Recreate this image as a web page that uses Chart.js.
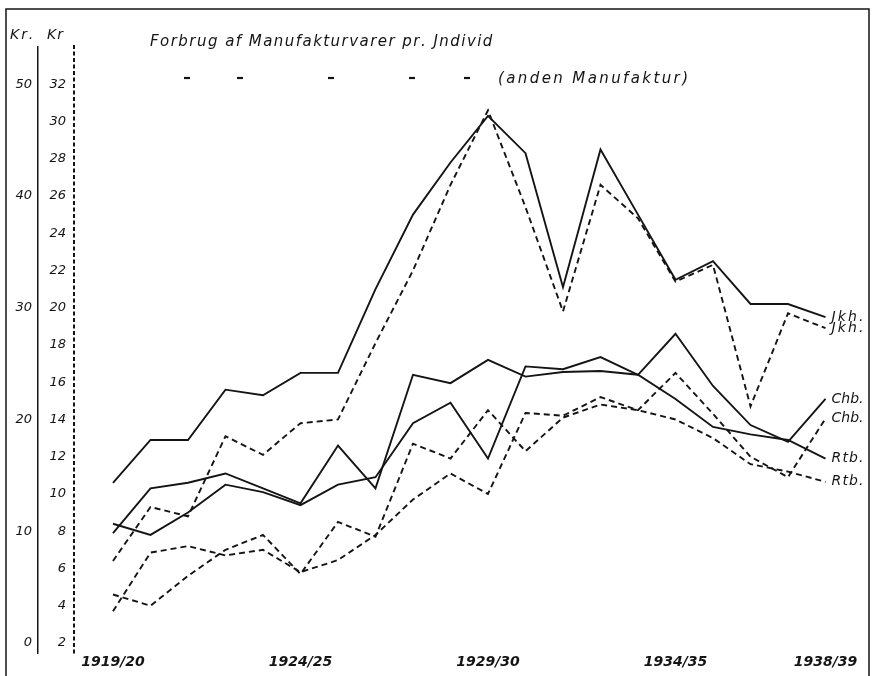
<!DOCTYPE html>
<html><head><meta charset="utf-8">
<script src="https://cdn.jsdelivr.net/npm/chart.js@4/dist/chart.umd.min.js"></script>
<style>html,body{margin:0;padding:0;background:#fff}#wrap{width:873px;height:676px}</style>
</head><body><div id="wrap"><canvas id="c" width="873" height="676"></canvas></div>
<script>
// ---- data ----
const years = ['1919/20','1920/21','1921/22','1922/23','1923/24','1924/25','1925/26','1926/27','1927/28','1928/29',
               '1929/30','1930/31','1931/32','1932/33','1933/34','1934/35','1935/36','1936/37','1937/38','1938/39'];
const xTickIndex = [0,5,10,15,19];
const innerTicks = [2,4,6,8,10,12,14,16,18,20,22,24,26,28,30,32];
const outerTicks = [0,10,20,30,40,50];
const jkhSolid  = [10.6,12.9,12.9,15.6,15.3,16.5,16.5,21.0,25.0,27.8,30.3,28.3,21.1,28.5,25.0,21.5,22.5,20.2,20.2,19.5];
const jkhDashed = [6.4,9.3,8.8,13.1,12.1,13.8,14.0,18.1,22.0,26.6,30.6,25.4,19.8,26.6,24.8,21.4,22.3,14.7,19.7,18.9];
const chbSolid  = [8.4,7.8,9.0,10.5,10.1,9.4,10.5,10.9,13.8,14.9,11.9,16.85,16.7,17.35,16.4,18.6,15.8,13.7,12.8,15.1];
const chbDashed = [3.7,6.85,7.2,6.7,7.0,5.8,6.45,7.8,9.7,11.1,10.0,14.35,14.2,15.2,14.5,16.5,14.3,12.0,10.9,14.05];
const rtbSolid  = [7.9,10.3,10.6,11.1,10.3,9.5,12.6,10.3,16.4,15.95,17.2,16.3,16.55,16.6,16.4,15.1,13.6,13.2,12.9,11.9];
const rtbDashed = [4.6,4.0,5.6,7.0,7.8,5.7,8.5,7.7,12.7,11.9,14.5,12.3,14.1,14.8,14.5,14.0,13.0,11.6,11.2,10.65];
const seriesNames = ['Jkh.','Jkh.','Chb.','Chb.','Rtb.','Rtb.'];
const titleText = 'Forbrug af Manufakturvarer pr. Jndivid';
const subText = '(anden Manufaktur)';

const INK = '#141414';
const FONT = '"DejaVu Sans"';
const toPts = arr => arr.map((v,i)=>({x:i,y:v}));
function ds(arr, dashed, name){
  return {label:name, data:toPts(arr), borderColor:INK, borderWidth:1.9, pointRadius:0,
          borderDash: dashed?[6,4]:[], tension:0, fill:false, clip:false, yAxisID:'y'};
}

function spacedText(ctx, text, x, y, width){
  const w = ctx.measureText(text).width;
  const sp = Math.max(0,(width - w)/(text.length-1));
  let cx = x;
  for (const ch of text){ ctx.fillText(ch, cx, y); cx += ctx.measureText(ch).width + sp; }
}

const deco = {
  id:'deco',
  afterDraw(chart){
    const ctx = chart.ctx;
    ctx.save();
    ctx.strokeStyle = INK; ctx.fillStyle = INK;
    // frame
    ctx.lineWidth = 1.5;
    ctx.beginPath(); ctx.moveTo(6,676); ctx.lineTo(6,9); ctx.lineTo(869,9); ctx.lineTo(869,676); ctx.stroke();
    // dashed inner axis line
    const sy = chart.scales.y;
    ctx.lineWidth = 2; ctx.setLineDash([4,2.5]);
    ctx.beginPath(); ctx.moveTo(sy.right-1, sy.top-2); ctx.lineTo(sy.right-1, sy.bottom+2); ctx.stroke();
    ctx.setLineDash([]);
    // axis units
    ctx.textBaseline = 'alphabetic'; ctx.textAlign = 'left';
    ctx.font = 'italic 14px ' + FONT;
    spacedText(ctx,'Kr.',10,39,22);
    spacedText(ctx,'Kr',47,39,16);
    // title
    ctx.font = 'italic 15px ' + FONT;
    spacedText(ctx,titleText,150,46,341);
    ctx.font = 'italic 15px ' + FONT;
    spacedText(ctx,subText,498,83,190);
    // ditto marks
    ctx.lineWidth = 2.2;
    for (const dx of [187,240,331,412,467]){ ctx.beginPath(); ctx.moveTo(dx-3,78); ctx.lineTo(dx+3,78); ctx.stroke(); }
    // end labels
    ctx.font = 'italic 14px ' + FONT; ctx.textBaseline = 'middle';
    chart.data.datasets.forEach((d,i)=>{
      const meta = chart.getDatasetMeta(i);
      const p = meta.data[meta.data.length-1];
      spacedText(ctx, seriesNames[i], p.x+6, p.y, 32);
    });
    ctx.restore();
  }
};

new Chart(document.getElementById('c'), {
  type:'line',
  data:{ datasets:[ ds(jkhSolid,false,'Jkh'), ds(jkhDashed,true,'Jkh (anden)'), ds(chbSolid,false,'Chb'),
                    ds(chbDashed,true,'Chb (anden)'), ds(rtbSolid,false,'Rtb'), ds(rtbDashed,true,'Rtb (anden)') ]},
  options:{
    responsive:false, animation:false, devicePixelRatio:1,
    layout:{padding:{left:0,right:13,top:47,bottom:0}},
    plugins:{legend:{display:false}, tooltip:{enabled:false}, title:{display:false}},
    scales:{
      x:{ type:'linear', min:-1.013, max:19.92,
          afterBuildTicks:s=>{ s.ticks = xTickIndex.map(v=>({value:v})); },
          afterFit:s=>{ s.height = 23; },
          ticks:{ callback:v=>years[v], color:INK, font:{family:'DejaVu Sans', size:14, style:'italic', weight:'bold'}, padding:1, maxRotation:0, autoSkip:false },
          grid:{display:false, drawTicks:false}, border:{display:false} },
      y:{ type:'linear', position:'left', weight:0, min:1.46, max:34,
          afterBuildTicks:s=>{ s.ticks = innerTicks.map(v=>({value:v})); },
          afterFit:s=>{ s.width = 37; },
          ticks:{ color:INK, font:{family:'DejaVu Sans', size:13, style:'italic'}, padding:9, autoSkip:false },
          grid:{display:false, drawTicks:false}, border:{display:false} },
      y2:{ type:'linear', position:'left', weight:1, min:-0.9, max:53.333,
          afterBuildTicks:s=>{ s.ticks = outerTicks.map(v=>({value:v})); },
          afterFit:s=>{ s.width = 38; },
          ticks:{ color:INK, font:{family:'DejaVu Sans', size:13, style:'italic'}, padding:6, autoSkip:false },
          grid:{display:false, drawTicks:false}, border:{display:true, color:INK, width:1.5} }
    }
  },
  plugins:[deco]
});
</script></body></html>
